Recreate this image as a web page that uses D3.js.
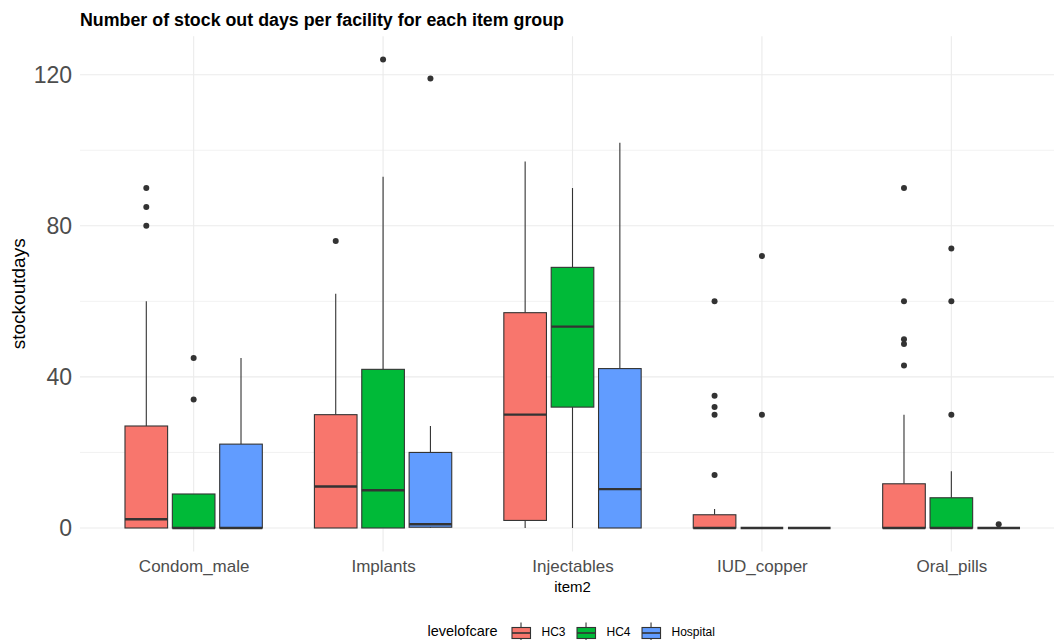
<!DOCTYPE html>
<html>
<head>
<meta charset="utf-8">
<script src="https://cdn.jsdelivr.net/npm/d3@7"></script>
<style>
  body { margin: 0; background: #fff; }
  text { font-family: "Liberation Sans", Arial, sans-serif; }
</style>
</head>
<body>
<div id="chart"></div>
<script>
// categories
const items = ["Condom_male", "Implants", "Injectables", "IUD_copper", "Oral_pills"];
const levels = ["HC3", "HC4", "Hospital"];
const colors = ["#F8766D", "#00BA38", "#619CFF"];
const yTicks = [0, 40, 80, 120];

// box statistics, one row per item, one value per level (HC3, HC4, Hospital)
const whiskerLow = [[0, 0, 0], [0, 0, 0], [0, 0, 0], [0, 0, 0], [0, 0, 0]];
const q1 = [[0, 0, 0], [0, 0, 0.2], [2, 32, 0], [0, 0, 0], [0, 0, 0]];
const median = [[2.3, 0, 0], [11, 10, 1], [30, 53.3, 10.3], [0, 0, 0], [0, 0, 0]];
const q3 = [[27, 9, 22.2], [30, 42, 20], [57, 69, 42.2], [3.5, 0, 0], [11.7, 8, 0]];
const whiskerHigh = [[60, 9, 45], [62, 93, 27], [97, 90, 102], [5, 0, 0], [30, 15, 0]];
const outliers = [
  [[80, 85, 90], [34, 45], []],
  [[76], [124], [119]],
  [[], [], []],
  [[14, 30, 32, 35, 60], [30, 72], []],
  [[43, 48.7, 50, 60, 90], [30, 60, 74], [1]]
];

const W = 1054, H = 640;
const panel = {left: 80, right: 1065, top: 36.2, bottom: 551.4};

const svg = d3.select("#chart")
  .append("svg")
  .attr("width", W)
  .attr("height", H)
  .style("display", "block");

const x = d3.scalePoint()
  .domain(items)
  .range([panel.left, panel.right])
  .padding(0.6);

const y = d3.scaleLinear()
  .domain([-6.2, 130.2])
  .range([panel.bottom, panel.top]);

const step = x.step();
const dodge = step * 0.75 / levels.length;
const boxW = dodge * 0.9;

// gridlines
const grid = svg.append("g");
d3.range(20, 121, 40).forEach(v => {
  grid.append("line")
    .attr("x1", panel.left).attr("x2", panel.right)
    .attr("y1", y(v)).attr("y2", y(v))
    .attr("stroke", "#EBEBEB").attr("stroke-width", 0.7);
});
yTicks.forEach(v => {
  grid.append("line")
    .attr("x1", panel.left).attr("x2", panel.right)
    .attr("y1", y(v)).attr("y2", y(v))
    .attr("stroke", "#EBEBEB").attr("stroke-width", 1.1);
});
items.forEach(it => {
  grid.append("line")
    .attr("x1", x(it)).attr("x2", x(it))
    .attr("y1", panel.top).attr("y2", panel.bottom)
    .attr("stroke", "#EBEBEB").attr("stroke-width", 1.1);
});

// axes (labels only, as in theme_minimal)
const yAxis = svg.append("g")
  .attr("transform", `translate(${panel.left}, 0)`)
  .call(d3.axisLeft(y).tickValues(yTicks).tickSize(0).tickPadding(8));
yAxis.select(".domain").remove();
yAxis.selectAll("text")
  .style("font-family", "Liberation Sans, Arial, sans-serif")
  .style("font-size", "23px")
  .attr("fill", "#4D4D4D");

const xAxis = svg.append("g")
  .attr("transform", `translate(0, ${panel.bottom})`)
  .call(d3.axisBottom(x).tickSize(0).tickPadding(9));
xAxis.select(".domain").remove();
xAxis.selectAll("text")
  .style("font-family", "Liberation Sans, Arial, sans-serif")
  .style("font-size", "17px")
  .attr("fill", "#4D4D4D");

// boxes
const boxes = [];
items.forEach((it, i) => {
  levels.forEach((lv, j) => {
    boxes.push({
      item: it, level: lv, color: colors[j],
      cx: x(it) + (j - 1) * dodge,
      lo: whiskerLow[i][j], q1: q1[i][j], med: median[i][j],
      q3: q3[i][j], hi: whiskerHigh[i][j], out: outliers[i][j]
    });
  });
});

const g = svg.append("g");
const bg = g.selectAll("g.box")
  .data(boxes)
  .join("g")
  .attr("class", "box");

bg.append("line")
  .attr("x1", d => d.cx).attr("x2", d => d.cx)
  .attr("y1", d => y(d.q3)).attr("y2", d => y(d.hi))
  .attr("stroke", "#333333").attr("stroke-width", 1.1);
bg.append("line")
  .attr("x1", d => d.cx).attr("x2", d => d.cx)
  .attr("y1", d => y(d.lo)).attr("y2", d => y(d.q1))
  .attr("stroke", "#333333").attr("stroke-width", 1.1);
bg.append("rect")
  .attr("x", d => d.cx - boxW / 2)
  .attr("width", boxW)
  .attr("y", d => y(d.q3))
  .attr("height", d => Math.max(0, y(d.q1) - y(d.q3)))
  .attr("fill", d => d.color)
  .attr("stroke", "#333333")
  .attr("stroke-width", 1.1);
bg.append("line")
  .attr("x1", d => d.cx - boxW / 2).attr("x2", d => d.cx + boxW / 2)
  .attr("y1", d => y(d.med)).attr("y2", d => y(d.med))
  .attr("stroke", "#333333").attr("stroke-width", 2.4);
bg.selectAll("circle")
  .data(d => d.out.map(v => ({cx: d.cx, v: v})))
  .join("circle")
  .attr("cx", d => d.cx)
  .attr("cy", d => y(d.v))
  .attr("r", 3)
  .attr("fill", "#333333");

// titles
svg.append("text")
  .attr("x", 80).attr("y", 26)
  .attr("textLength", 484)
  .attr("lengthAdjust", "spacingAndGlyphs")
  .style("font-size", "18px")
  .style("font-weight", "bold")
  .attr("fill", "#000")
  .text("Number of stock out days per facility for each item group");

svg.append("text")
  .attr("x", x("Injectables")).attr("y", 592)
  .attr("text-anchor", "middle")
  .style("font-size", "15px")
  .attr("fill", "#000")
  .text("item2");

svg.append("text")
  .attr("transform", `translate(25, ${(panel.top + panel.bottom) / 2}) rotate(-90)`)
  .attr("text-anchor", "middle")
  .style("font-size", "19px")
  .attr("fill", "#000")
  .text("stockoutdays");

// legend
const legend = svg.append("g");
legend.append("text")
  .attr("x", 427.5).attr("y", 636)
  .style("font-size", "14.5px")
  .attr("fill", "#000")
  .text("levelofcare");

let lx = 511.5;
levels.forEach((lv, j) => {
  const k = legend.append("g").attr("transform", `translate(${lx}, 0)`);
  k.append("line")
    .attr("x1", 9.5).attr("x2", 9.5).attr("y1", 622.5).attr("y2", 644)
    .attr("stroke", "#333333").attr("stroke-width", 1.1);
  k.append("rect")
    .attr("x", 0.5).attr("y", 627.5).attr("width", 18.5).attr("height", 11)
    .attr("fill", colors[j]).attr("stroke", "#333333").attr("stroke-width", 1.1);
  k.append("line")
    .attr("x1", 0.5).attr("x2", 19).attr("y1", 633).attr("y2", 633)
    .attr("stroke", "#333333").attr("stroke-width", 1.6);
  const t = k.append("text")
    .attr("x", 30).attr("y", 636)
    .style("font-size", "12px")
    .attr("fill", "#000")
    .text(lv);
  lx += 30 + t.node().getComputedTextLength() + 11;
});
</script>
</body>
</html>
